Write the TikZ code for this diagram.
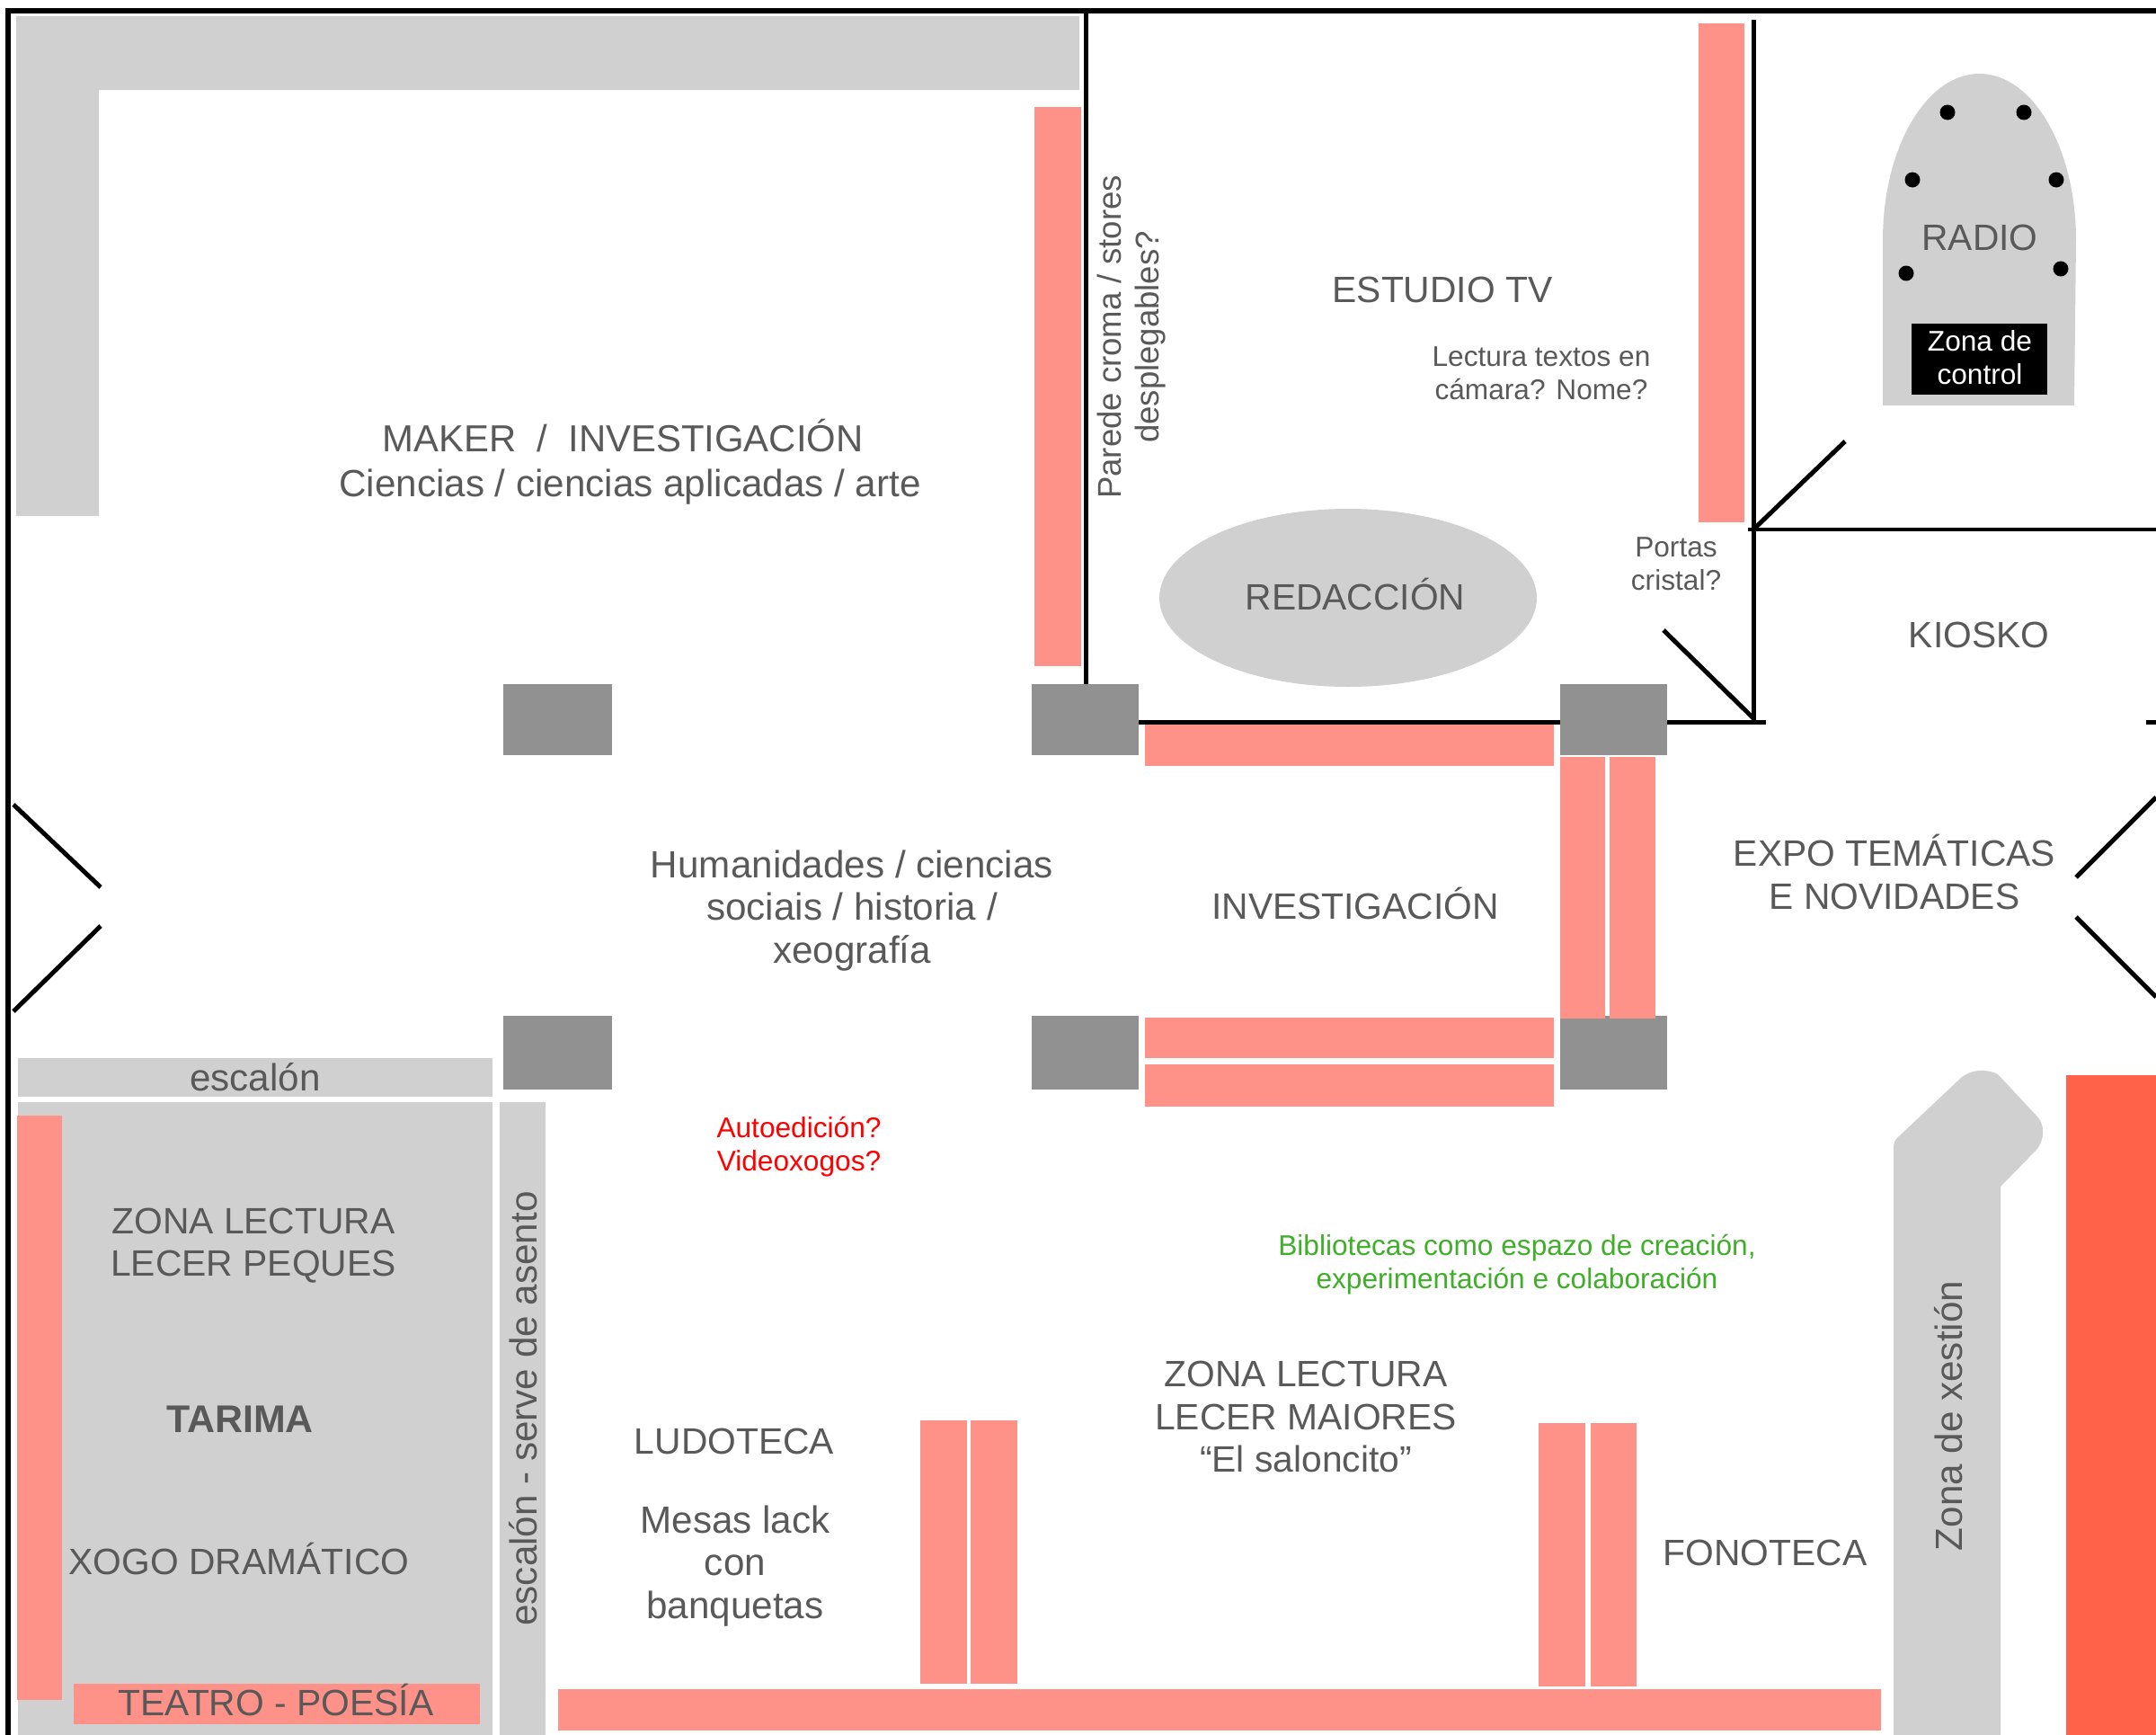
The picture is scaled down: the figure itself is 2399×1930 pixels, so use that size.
\documentclass[tikz,border=0pt]{standalone}
\usepackage{fontspec}
\setmainfont{Liberation Sans}
\definecolor{shelfc}{HTML}{FF9288}
\definecolor{zonec}{HTML}{D0D0D0}
\definecolor{colc}{HTML}{919191}
\definecolor{stagec}{HTML}{FF6149}
\definecolor{textc}{HTML}{595959}
\definecolor{greenc}{HTML}{3FAE29}
\begin{document}
\begin{tikzpicture}[
			x = 0.01cm,
			y = -0.01cm,
			every node/.style = {text=textc,align=center,inner sep=0pt},
			big/.style = {font=\fontsize{11.6}{13.4}\selectfont},
			mixed/.style = {font=\fontsize{12}{13.5}\selectfont},
			small/.style = {font=\fontsize{9}{10.5}\selectfont},
			shelf/.style = {fill=shelfc},
			zone/.style = {fill=zonec},
			pillar/.style = {fill=colc},
			wall/.style = {line width=0.05cm,black},
			thinwall/.style = {line width=0.036cm,black}
			]

			\useasboundingbox (0,0) rectangle (2399,1930);

			% zones
			\fill[zone] (18,18) -- (1201,18) -- (1201,100) -- (110,100) -- (110,574) -- (18,574) -- cycle;
			\fill[zone] (20,1177) rectangle (548,1220);
			\fill[zone] (20,1226) rectangle (548,1930);
			\fill[zone] (556,1226) rectangle (607,1930);
			\fill[zone] (1500,665) ellipse [x radius=210,y radius=99];
			\fill[zone] (2095,451) -- (2095,267) arc [start angle=180,end angle=360,x radius=107.5,y radius=185] -- (2308,451) -- cycle;
			\fill[zone] (2107,1930) -- (2107,1277) .. controls (2107,1270) and (2109,1267) .. (2113,1264) -- (2183,1198) .. controls (2195,1189) and (2211,1189) .. (2223,1195) -- (2265,1240) .. controls (2276,1250) and (2276,1268) .. (2265,1280) -- (2226,1320) -- (2226,1930) -- cycle;
			\fill[stagec] (2299,1196) rectangle (2399,1930);

			% pillars
			\fill[pillar] (560,761) rectangle (681,840);
			\fill[pillar] (1148,761) rectangle (1267,840);
			\fill[pillar] (1736,761) rectangle (1855,840);
			\fill[pillar] (560,1130) rectangle (681,1212);
			\fill[pillar] (1148,1130) rectangle (1267,1212);
			\fill[pillar] (1736,1130) rectangle (1855,1212);

			% shelves
			\fill[shelf] (1151,119) rectangle (1203,741);
			\fill[shelf] (1890,26) rectangle (1941,581);
			\fill[shelf] (1274,806) rectangle (1729,852);
			\fill[shelf] (1736,842) rectangle (1786,1133);
			\fill[shelf] (1791,842) rectangle (1842,1133);
			\fill[shelf] (1274,1132) rectangle (1729,1177);
			\fill[shelf] (1274,1184) rectangle (1729,1231);
			\fill[shelf] (19,1241) rectangle (69,1891);
			\fill[shelf] (82,1873) rectangle (534,1918);
			\fill[shelf] (621,1879) rectangle (2093,1925);
			\fill[shelf] (1024,1580) rectangle (1076,1873);
			\fill[shelf] (1080,1580) rectangle (1132,1873);
			\fill[shelf] (1712,1583) rectangle (1764,1876);
			\fill[shelf] (1770,1583) rectangle (1821,1876);

			% walls and doors
			\draw[wall] (9,1930) -- (9,12) -- (2399,12);
			\draw[wall] (1208,12) -- (1208,761);
			\draw[wall] (1267,803) -- (1736,803);
			\draw[wall] (1855,803) -- (1965,803);
			\draw[wall] (2388,803) -- (2399,803);
			\draw[wall] (1951,22) -- (1951,803);
			\draw[thinwall] (1945,589) -- (2399,589);
			\draw[wall] (1951,589) -- (2053,491);
			\draw[wall] (1851,701) -- (1951,799);
			\draw[wall] (15,895) -- (112,987);
			\draw[wall] (15,1125) -- (112,1030);
			\draw[wall] (2399,887) -- (2310,976);
			\draw[wall] (2399,1109) -- (2310,1020);

			% radio
			\fill (2167,125) circle (8.5);
			\fill (2252,125) circle (8.5);
			\fill (2128,200) circle (8.5);
			\fill (2288,200) circle (8.5);
			\fill (2121,304) circle (8.5);
			\fill (2293,299) circle (8.5);
			\fill (2127,360) rectangle (2278,439);

			% labels
			\node[big] (radio) at (2203,264) {RADIO};
			\node[small,text=white] (control) at (2203,398) {Zona de\\control};
			\node[big] (kiosko) at (2202,706) {KIOSKO};
			\node[big,font=\fontsize{11.9}{13.4}\selectfont] (maker) at (693,485) {MAKER \ / \ INVESTIGACIÓN};
			\node[mixed] (ciencias) at (701,542) {Ciencias / ciencias aplicadas / arte};
			\node[big,font=\fontsize{10.4}{12.2}\selectfont,rotate=90] (parede) at (1259,375) {Parede croma / stores\\desplegables?};
			\node[big] (estudio) at (1605,322) {ESTUDIO TV};
			\node[small] (lectura) at (1715,415) {Lectura textos en\\cámara? Nome?};
			\node[big] (redaccion) at (1508,661) {REDACCIÓN};
			\node[small] (portas) at (1865,627) {Portas\\cristal?};
			\node[mixed] (humanidades) at (948,1013) {Humanidades / ciencias\\sociais / historia /\\xeografía};
			\node[big] (investigacion) at (1508,1005) {INVESTIGACIÓN};
			\node[big] (expo) at (2108,970) {EXPO TEMÁTICAS\\E NOVIDADES};
			\node[small,text=red] (autoedicion) at (889,1276) {Autoedición?\\Videoxogos?};
			\node[small,text=greenc] (bibliotecas) at (1688,1407) {Bibliotecas como espazo de creación,\\experimentación e colaboración};
			\node[big] (maiores) at (1453,1576) {ZONA LECTURA\\LECER MAIORES\\“El saloncito”};
			\node[big] (ludoteca) at (817,1603) {LUDOTECA};
			\node[mixed] (mesas) at (818,1742) {Mesas lack\\con\\banquetas};
			\node[big] (fonoteca) at (1964,1727) {FONOTECA};
			\node[mixed,rotate=90] (xestion) at (2168,1575) {Zona de xestión};
			\node[mixed] (escalon) at (284,1198) {escalón};
			\node[mixed,rotate=90] (asento) at (582,1567) {escalón - serve de asento};
			\node[big] (peques) at (282,1386) {ZONA LECTURA\\LECER PEQUES};
			\node[big,font=\fontsize{12.2}{13.4}\selectfont\bfseries] (tarima) at (267,1579) {TARIMA};
			\node[big] (xogo) at (266,1734) {XOGO DRAMÁTICO};
			\node[big] (teatro) at (307,1891) {TEATRO - POESÍA};

		\end{tikzpicture}
\end{document}
